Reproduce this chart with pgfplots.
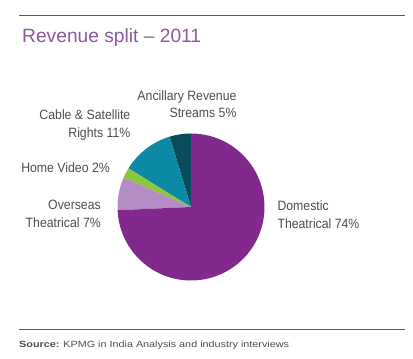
\documentclass[border=0pt]{standalone}
\usepackage{fontspec}
\usepackage{pgfplots}
\usepackage{pgfplotstable}
\pgfplotsset{compat=1.18}
\setmainfont{Liberation Sans}
\newfontfamily\condfont[FakeStretch=0.91]{Liberation Sans}
\newfontfamily\srcfont[FakeStretch=1.2]{Liberation Sans}
\definecolor{cDom}{RGB}{131,41,141}
\definecolor{cOver}{RGB}{180,140,198}
\definecolor{cHome}{RGB}{141,198,63}
\definecolor{cCable}{RGB}{12,138,165}
\definecolor{cAnc}{RGB}{10,75,92}
\definecolor{txt}{RGB}{77,77,77}
\definecolor{rule}{RGB}{90,90,90}
\definecolor{ttl}{RGB}{140,90,155}

% slices in counter-clockwise order, starting at 12 o'clock
\pgfplotstableread{
label value
Ancillary 4.7
Cable 11.5
HomeVideo 2.3
Overseas 7.2
Domestic 74.3
}\piedata

\begin{document}%
\begin{tikzpicture}[x=1pt,y=1pt]
\pgfplotstablegetelem{0}{value}\of\piedata \global\let\vA\pgfplotsretval
\pgfplotstablegetelem{1}{value}\of\piedata \global\let\vB\pgfplotsretval
\pgfplotstablegetelem{2}{value}\of\piedata \global\let\vC\pgfplotsretval
\pgfplotstablegetelem{3}{value}\of\piedata \global\let\vD\pgfplotsretval
\pgfplotstablegetelem{4}{value}\of\piedata \global\let\vE\pgfplotsretval
\pgfmathsetmacro{\tot}{\vA+\vB+\vC+\vD+\vE}
\pgfmathsetmacro{\aA}{90}
\pgfmathsetmacro{\aB}{\aA+\vA/\tot*360}
\pgfmathsetmacro{\aC}{\aB+\vB/\tot*360}
\pgfmathsetmacro{\aD}{\aC+\vC/\tot*360}
\pgfmathsetmacro{\aE}{\aD+\vD/\tot*360}
\pgfmathsetmacro{\aF}{\aE+\vE/\tot*360}
\def\R{73.5pt}
\useasboundingbox (0,0) rectangle (413,359);
% rules
\draw[rule, line width=0.9pt] (19,344) -- (405,344);
\draw[rule, line width=0.9pt] (19,29.7) -- (405,29.7);
% title
\node[anchor=base west, inner sep=0pt, text=ttl, font=\fontsize{19.2}{22}\selectfont] at (22,316) {Revenue split -- 2011};
% source
\node[anchor=base west, inner sep=0pt, text=txt, font=\srcfont\fontsize{9}{11}\selectfont] at (19,11.5) {\textbf{Source:} KPMG in India Analysis and industry interviews};

\begin{axis}[
  hide axis, scale only axis, width=147pt, height=147pt,
  xmin=-1, xmax=1, ymin=-1, ymax=1, clip=false,
  at={(191pt,152pt)}, anchor=center]
  \fill[cAnc]   (axis cs:0,0) -- ++(\aA:\R) arc[start angle=\aA, end angle=\aB, radius=\R] -- cycle;
  \fill[cCable] (axis cs:0,0) -- ++(\aB:\R) arc[start angle=\aB, end angle=\aC, radius=\R] -- cycle;
  \fill[cHome]  (axis cs:0,0) -- ++(\aC:\R) arc[start angle=\aC, end angle=\aD, radius=\R] -- cycle;
  \fill[cOver]  (axis cs:0,0) -- ++(\aD:\R) arc[start angle=\aD, end angle=\aE, radius=\R] -- cycle;
  \fill[cDom]   (axis cs:0,0) -- ++(\aE:\R) arc[start angle=\aE, end angle=\aF, radius=\R] -- cycle;
\end{axis}

% labels
\begin{scope}[every node/.style={inner sep=0pt, text=txt, font=\condfont\fontsize{13.5}{17}\selectfont}]
\node[anchor=base east] at (236.7,258.3) {Ancillary Revenue};
\node[anchor=base east] at (236.7,241.3) {Streams 5\%};
\node[anchor=base east] at (130.5,239) {Cable \& Satellite};
\node[anchor=base east] at (130.5,221.3) {Rights 11\%};
\node[anchor=base east] at (110,186.3) {Home Video 2\%};
\node[anchor=base east] at (101,149) {Overseas};
\node[anchor=base east] at (101,131.3) {Theatrical 7\%};
\node[anchor=base west] at (277.3,148.3) {Domestic};
\node[anchor=base west] at (277.3,130.7) {Theatrical 74\%};
\end{scope}
\end{tikzpicture}%
\end{document}
